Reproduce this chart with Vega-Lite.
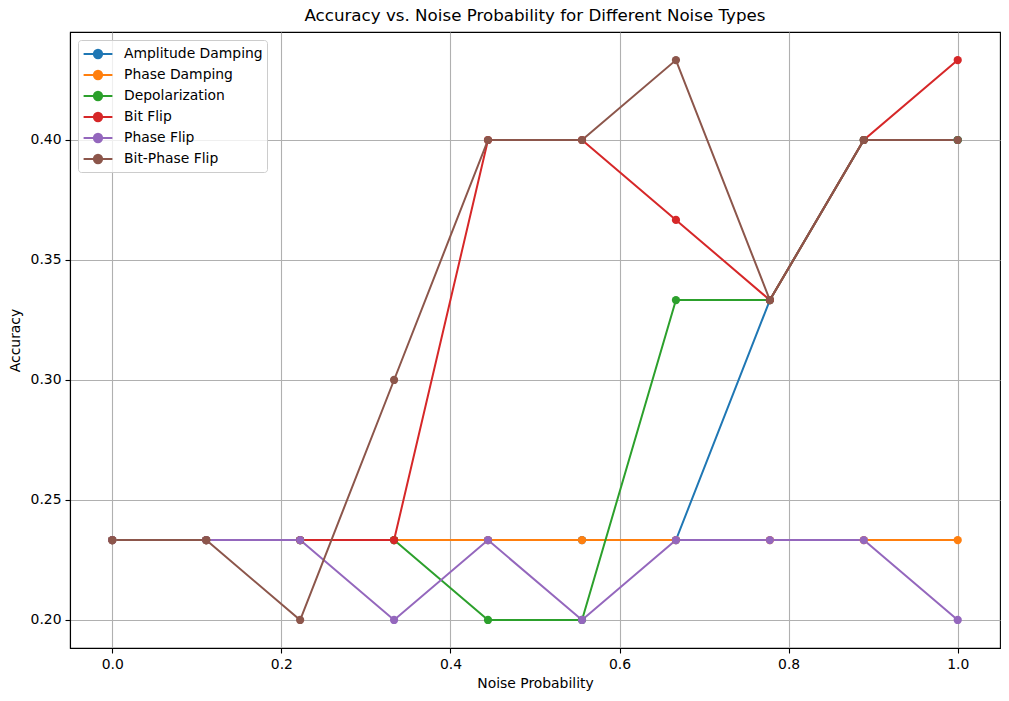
{
  "$schema": "https://vega.github.io/schema/vega-lite/v6.json",
  "autosize": "none",
  "width": 930,
  "height": 616,
  "padding": {"left": 70, "top": 32, "right": 9, "bottom": 53},
  "background": "white",
  "title": {
    "text": "Accuracy vs. Noise Probability for Different Noise Types",
    "font": "DejaVu Sans",
    "fontSize": 16.7,
    "fontWeight": "normal",
    "color": "black",
    "anchor": "middle",
    "offset": 7
  },
  "config": {
    "font": "DejaVu Sans",
    "view": {"stroke": "black", "strokeWidth": 1.1},
    "axis": {
      "domainColor": "black",
      "domainWidth": 1.1,
      "tickColor": "black",
      "tickSize": 5,
      "tickWidth": 1.1,
      "labelFont": "DejaVu Sans",
      "labelFontSize": 13.9,
      "labelColor": "black",
      "labelPadding": 4,
      "titleFont": "DejaVu Sans",
      "titleFontSize": 13.9,
      "titleFontWeight": "normal",
      "titleColor": "black",
      "grid": true,
      "gridColor": "#b0b0b0",
      "gridWidth": 1.1
    }
  },
  "data": {
    "values": [
      {"noise": "Amplitude Damping", "p": 0, "acc": 0.2333},
      {"noise": "Amplitude Damping", "p": 0.1111, "acc": 0.2333},
      {"noise": "Amplitude Damping", "p": 0.2222, "acc": 0.2333},
      {"noise": "Amplitude Damping", "p": 0.3333, "acc": 0.2333},
      {"noise": "Amplitude Damping", "p": 0.4444, "acc": 0.2333},
      {"noise": "Amplitude Damping", "p": 0.5556, "acc": 0.2333},
      {"noise": "Amplitude Damping", "p": 0.6667, "acc": 0.2333},
      {"noise": "Amplitude Damping", "p": 0.7778, "acc": 0.3333},
      {"noise": "Amplitude Damping", "p": 0.8889, "acc": 0.4},
      {"noise": "Amplitude Damping", "p": 1, "acc": 0.4},
      {"noise": "Phase Damping", "p": 0, "acc": 0.2333},
      {"noise": "Phase Damping", "p": 0.1111, "acc": 0.2333},
      {"noise": "Phase Damping", "p": 0.2222, "acc": 0.2333},
      {"noise": "Phase Damping", "p": 0.3333, "acc": 0.2333},
      {"noise": "Phase Damping", "p": 0.4444, "acc": 0.2333},
      {"noise": "Phase Damping", "p": 0.5556, "acc": 0.2333},
      {"noise": "Phase Damping", "p": 0.6667, "acc": 0.2333},
      {"noise": "Phase Damping", "p": 0.7778, "acc": 0.2333},
      {"noise": "Phase Damping", "p": 0.8889, "acc": 0.2333},
      {"noise": "Phase Damping", "p": 1, "acc": 0.2333},
      {"noise": "Depolarization", "p": 0, "acc": 0.2333},
      {"noise": "Depolarization", "p": 0.1111, "acc": 0.2333},
      {"noise": "Depolarization", "p": 0.2222, "acc": 0.2333},
      {"noise": "Depolarization", "p": 0.3333, "acc": 0.2333},
      {"noise": "Depolarization", "p": 0.4444, "acc": 0.2},
      {"noise": "Depolarization", "p": 0.5556, "acc": 0.2},
      {"noise": "Depolarization", "p": 0.6667, "acc": 0.3333},
      {"noise": "Depolarization", "p": 0.7778, "acc": 0.3333},
      {"noise": "Depolarization", "p": 0.8889, "acc": 0.4},
      {"noise": "Depolarization", "p": 1, "acc": 0.4},
      {"noise": "Bit Flip", "p": 0, "acc": 0.2333},
      {"noise": "Bit Flip", "p": 0.1111, "acc": 0.2333},
      {"noise": "Bit Flip", "p": 0.2222, "acc": 0.2333},
      {"noise": "Bit Flip", "p": 0.3333, "acc": 0.2333},
      {"noise": "Bit Flip", "p": 0.4444, "acc": 0.4},
      {"noise": "Bit Flip", "p": 0.5556, "acc": 0.4},
      {"noise": "Bit Flip", "p": 0.6667, "acc": 0.3667},
      {"noise": "Bit Flip", "p": 0.7778, "acc": 0.3333},
      {"noise": "Bit Flip", "p": 0.8889, "acc": 0.4},
      {"noise": "Bit Flip", "p": 1, "acc": 0.4333},
      {"noise": "Phase Flip", "p": 0, "acc": 0.2333},
      {"noise": "Phase Flip", "p": 0.1111, "acc": 0.2333},
      {"noise": "Phase Flip", "p": 0.2222, "acc": 0.2333},
      {"noise": "Phase Flip", "p": 0.3333, "acc": 0.2},
      {"noise": "Phase Flip", "p": 0.4444, "acc": 0.2333},
      {"noise": "Phase Flip", "p": 0.5556, "acc": 0.2},
      {"noise": "Phase Flip", "p": 0.6667, "acc": 0.2333},
      {"noise": "Phase Flip", "p": 0.7778, "acc": 0.2333},
      {"noise": "Phase Flip", "p": 0.8889, "acc": 0.2333},
      {"noise": "Phase Flip", "p": 1, "acc": 0.2},
      {"noise": "Bit-Phase Flip", "p": 0, "acc": 0.2333},
      {"noise": "Bit-Phase Flip", "p": 0.1111, "acc": 0.2333},
      {"noise": "Bit-Phase Flip", "p": 0.2222, "acc": 0.2},
      {"noise": "Bit-Phase Flip", "p": 0.3333, "acc": 0.3},
      {"noise": "Bit-Phase Flip", "p": 0.4444, "acc": 0.4},
      {"noise": "Bit-Phase Flip", "p": 0.5556, "acc": 0.4},
      {"noise": "Bit-Phase Flip", "p": 0.6667, "acc": 0.4333},
      {"noise": "Bit-Phase Flip", "p": 0.7778, "acc": 0.3333},
      {"noise": "Bit-Phase Flip", "p": 0.8889, "acc": 0.4},
      {"noise": "Bit-Phase Flip", "p": 1, "acc": 0.4}
    ]
  },
  "encoding": {
    "x": {
      "field": "p",
      "type": "quantitative",
      "title": "Noise Probability",
      "scale": {"domain": [-0.05, 1.05], "nice": false, "zero": false},
      "axis": {"values": [0, 0.2, 0.4, 0.6, 0.8, 1.0], "format": ".1f", "titlePadding": 6}
    },
    "y": {
      "field": "acc",
      "type": "quantitative",
      "title": "Accuracy",
      "scale": {"domain": [0.18833, 0.445], "nice": false, "zero": false},
      "axis": {"values": [0.2, 0.25, 0.3, 0.35, 0.4], "format": ".2f", "titlePadding": 8}
    },
    "color": {
      "field": "noise",
      "type": "nominal",
      "sort": ["Amplitude Damping", "Phase Damping", "Depolarization", "Bit Flip", "Phase Flip", "Bit-Phase Flip"],
      "scale": {
        "domain": ["Amplitude Damping", "Phase Damping", "Depolarization", "Bit Flip", "Phase Flip", "Bit-Phase Flip"],
        "range": ["#1f77b4", "#ff7f0e", "#2ca02c", "#d62728", "#9467bd", "#8c564b"]
      },
      "legend": {
        "title": null,
        "orient": "top-left",
        "offset": 8,
        "padding": 4,
        "strokeColor": "#cccccc",
        "fillColor": "rgba(255,255,255,0.8)",
        "cornerRadius": 3,
        "labelFont": "DejaVu Sans",
        "labelFontSize": 13.9,
        "labelColor": "black",
        "labelOffset": 16,
        "rowPadding": 2,
        "symbolOffset": 6,
        "symbolType": "M-1.6,0L1.6,0M0.46,0A0.46,0.46,0,1,1,-0.46,0A0.46,0.46,0,1,1,0.46,0Z",
        "symbolSize": 324,
        "symbolStrokeWidth": 2,
        "symbolOpacity": 1,
        "encode": {
          "symbols": {
            "update": {
              "fill": {"scale": "color", "field": "value"},
              "stroke": {"scale": "color", "field": "value"},
              "opacity": {"value": 1}
            }
          }
        }
      }
    }
  },
  "layer": [
    {"mark": {"type": "line", "strokeWidth": 2}},
    {"mark": {"type": "point", "filled": true, "size": 68, "opacity": 1}}
  ]
}
